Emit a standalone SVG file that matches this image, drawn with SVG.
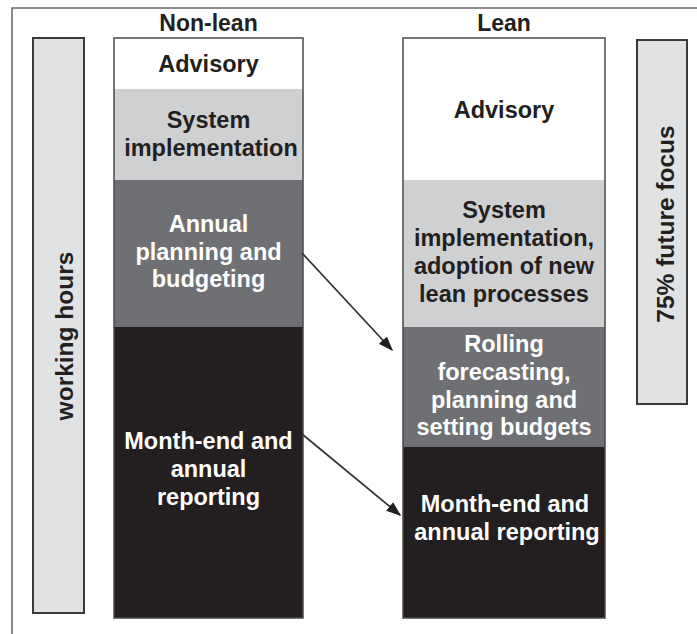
<svg xmlns="http://www.w3.org/2000/svg" width="697" height="634" viewBox="0 0 697 634">
<defs>
<style>
text{font-family:"Liberation Sans",Arial,Helvetica,sans-serif;font-weight:bold;text-anchor:middle}
.t{font-size:23.5px;fill:#231f20}
.w{font-size:23.5px;fill:#ffffff}
.h{font-size:23px;fill:#231f20}
.r{font-size:24.5px;fill:#231f20}
.bar{fill:#e1e2e4;stroke:#3a3a3a;stroke-width:2}
.col{fill:none;stroke:#4a4a4a;stroke-width:1.5}
.conn{stroke:#333;stroke-width:1.7;fill:none;marker-end:url(#ah)}
</style>
<marker id="ah" viewBox="0 0 10 10" refX="9" refY="5" markerWidth="15" markerHeight="11" markerUnits="userSpaceOnUse" orient="auto" preserveAspectRatio="none">
<path d="M0,0 L10,5 L0,10 z" fill="#231f20"/>
</marker>
</defs>
<rect width="697" height="634" fill="#ffffff"/>
<path d="M12,640 L12,8 L700,8" fill="none" stroke="#666" stroke-width="1.5"/>

<g id="working-hours">
<rect class="bar" x="33" y="38" width="51" height="575"/>
<text class="r" transform="translate(73,336) rotate(-90)" x="0" y="0">working hours</text>
</g>

<g id="future-focus">
<rect class="bar" x="637" y="40" width="50" height="364"/>
<text class="r" transform="translate(674,224) rotate(-90)" x="0" y="0">75% future focus</text>
</g>

<g id="non-lean">
<text class="h" x="208.5" y="31">Non-lean</text>
<rect x="114" y="38" width="189" height="51" fill="#ffffff"/>
<rect x="114" y="89" width="189" height="91" fill="#cfd0d2"/>
<rect x="114" y="180" width="189" height="147" fill="#6f7073"/>
<rect x="114" y="327" width="189" height="291" fill="#231f20"/>
<rect class="col" x="114" y="38" width="189" height="580"/>
<text class="t" x="208.5" y="72">Advisory</text>
<text class="t" x="208.5" y="128">System</text>
<text class="t" x="211" y="156">implementation</text>
<text class="w" x="208.5" y="232">Annual</text>
<text class="w" x="208.5" y="260">planning and</text>
<text class="w" x="208.5" y="287">budgeting</text>
<text class="w" x="208.5" y="449">Month-end and</text>
<text class="w" x="208.5" y="477">annual</text>
<text class="w" x="208.5" y="505">reporting</text>
</g>

<g id="lean">
<text class="h" x="504" y="31">Lean</text>
<rect x="403" y="38" width="202" height="142" fill="#ffffff"/>
<rect x="403" y="180" width="202" height="147" fill="#cfd0d2"/>
<rect x="403" y="327" width="202" height="120" fill="#6f7073"/>
<rect x="403" y="447" width="202" height="171" fill="#231f20"/>
<rect class="col" x="403" y="38" width="202" height="580"/>
<text class="t" x="504" y="118">Advisory</text>
<text class="t" x="504" y="218">System</text>
<text class="t" x="504" y="246">implementation,</text>
<text class="t" x="504" y="274">adoption of new</text>
<text class="t" x="504" y="302">lean processes</text>
<text class="w" x="504" y="352">Rolling</text>
<text class="w" x="504" y="380">forecasting,</text>
<text class="w" x="504" y="408">planning and</text>
<text class="w" x="504" y="435">setting budgets</text>
<text class="w" x="505" y="512">Month-end and</text>
<text class="w" x="507" y="540">annual reporting</text>
</g>

<g id="connectors">
<line class="conn" x1="302" y1="253" x2="392" y2="350"/>
<line class="conn" x1="302" y1="434" x2="400" y2="515"/>
</g>
</svg>
